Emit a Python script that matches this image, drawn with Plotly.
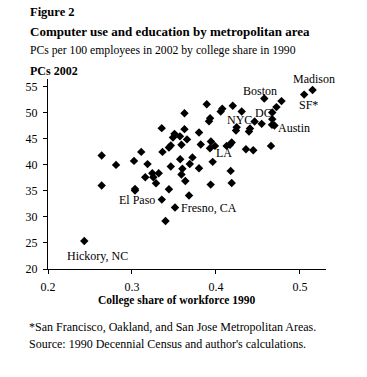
import plotly.graph_objects as go

college_share = [
    0.515, 0.505, 0.478, 0.472, 0.467, 0.4575, 0.4306, 0.420, 0.4075, 0.4056,
    0.389, 0.3625, 0.393, 0.3917, 0.446, 0.4544, 0.467, 0.4667, 0.4696, 0.4246,
    0.4238, 0.4405, 0.4393, 0.3798, 0.3625, 0.3354, 0.3506, 0.3488, 0.3571, 0.3655,
    0.3462, 0.344, 0.3589, 0.3819, 0.394, 0.3929, 0.3988, 0.4127, 0.4167, 0.4187,
    0.4357, 0.4444, 0.4655, 0.2639, 0.311, 0.3363, 0.3024, 0.281, 0.3185, 0.3574,
    0.372, 0.3462, 0.3688, 0.3798, 0.360, 0.3961, 0.3242, 0.3318, 0.3158, 0.3254,
    0.3589, 0.3635, 0.3286, 0.3937, 0.4187, 0.4175, 0.2639, 0.3036, 0.3036, 0.344,
    0.3679, 0.3355, 0.3512, 0.3399, 0.2432,
]
pcs_2002 = [
    54.4, 53.5, 52.25, 51.1, 50.06, 52.75, 50.25, 51.35, 50.77, 50.25,
    51.63, 49.94, 48.98, 48.37, 48.33, 47.88, 48.79, 47.69, 47.56, 47.25,
    46.6, 46.98, 46.4, 46.21, 46.87, 47.06, 45.96, 45.25, 45.48, 44.9,
    43.71, 43.33, 43.85, 43.92, 44.48, 43.21, 43.65, 43.65, 43.85, 44.29,
    43.02, 42.83, 43.65, 41.79, 42.5, 42.5, 40.77, 40.0, 40.15, 41.1,
    41.44, 39.71, 40.17, 39.37, 39.27, 40.58, 38.4, 38.4, 37.63, 37.63,
    38.17, 36.92, 36.48, 36.21, 36.54, 38.85, 36.06, 35.38, 35.06, 35.33,
    34.13, 33.33, 31.83, 29.23, 25.38,
]

label_text = ["Madison", "Boston", "SF*", "NYC", "DC", "Austin", "LA",
              "El Paso", "Fresno, CA", "Hickory, NC"]
label_x = [0.5167, 0.4524, 0.5107, 0.428, 0.457, 0.4923, 0.4095, 0.3062, 0.392, 0.2587]
label_y = [56.45, 54.1, 51.54, 48.65, 50.06, 47.06, 42.25, 33.27, 31.79, 22.5]

x_ticks = [0.2, 0.3, 0.4, 0.5]
y_ticks = [20, 25, 30, 35, 40, 45, 50, 55]

FONT = "Liberation Serif, Times New Roman, serif"

fig = go.Figure()
fig.add_trace(go.Scatter(
    x=college_share, y=pcs_2002, mode="markers",
    marker=dict(symbol="diamond", size=6.5, color="black", line=dict(width=0)),
    hoverinfo="x+y", showlegend=False, cliponaxis=False,
))

annotations = []
for t, x, y in zip(label_text, label_x, label_y):
    annotations.append(dict(x=x, y=y, xref="x", yref="y", text=t, showarrow=False,
                            xanchor="center", yanchor="middle",
                            font=dict(family=FONT, size=12, color="black")))

def ptext(text, x, y, size, bold=False, xanchor="left"):
    return dict(x=x, y=y, xref="paper", yref="paper",
                text=f"<b>{text}</b>" if bold else text, showarrow=False,
                xanchor=xanchor, yanchor="middle",
                font=dict(family=FONT, size=size, color="black"))

annotations += [
    ptext("Figure 2", -0.0719, 1.3526, 12.5, bold=True),
    ptext("Computer use and education by metropolitan area", -0.0719, 1.2526, 13, bold=True),
    ptext("PCs per 100 employees in 2002 by college share in 1990", -0.0719, 1.1526, 11.7),
    ptext("PCs 2002", -0.0719, 1.0421, 12, bold=True),
    ptext("College share of workforce 1990", 0.4626, -0.165, 11.5, bold=True, xanchor="center"),
    ptext("*San Francisco, Oakland, and San Jose Metropolitan Areas.", -0.0755, -0.3053, 12),
    ptext("Source: 1990 Decennial Census and author's calculations.", -0.0755, -0.3947, 12),
]

fig.update_layout(
    width=367, height=377,
    margin=dict(l=48, r=41, t=79, b=108),
    paper_bgcolor="white", plot_bgcolor="white",
    font=dict(family=FONT, size=12, color="black"),
    annotations=annotations,
    xaxis=dict(range=[0.2, 0.531], tickvals=x_ticks, ticktext=[f"{v:.1f}" for v in x_ticks],
               showgrid=False, zeroline=False, showline=True, linecolor="black", linewidth=1,
               ticks="outside", ticklen=4, tickcolor="black", ticklabelstandoff=3,
               tickfont=dict(family=FONT, size=12, color="black")),
    yaxis=dict(range=[20, 56.5], tickvals=y_ticks,
               showgrid=False, zeroline=False, showline=True, linecolor="black", linewidth=1,
               ticks="outside", ticklen=4, tickcolor="black", ticklabelstandoff=3,
               tickfont=dict(family=FONT, size=12, color="black")),
)

fig.write_html("out.html", config={"displayModeBar": False},
               post_script="document.body.style.margin='0';document.body.style.padding='0';")
